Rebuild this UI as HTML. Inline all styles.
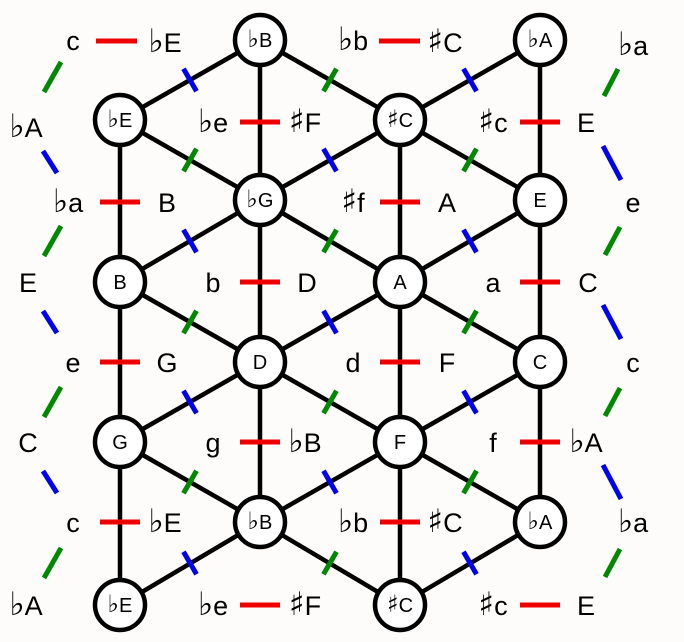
<!DOCTYPE html>
<html><head><meta charset="utf-8"><style>
html,body{margin:0;padding:0;background:#fff}
svg{display:block}
text{font-family:"Liberation Sans","DejaVu Sans",sans-serif}
.acc{font-family:"DejaVu Sans",sans-serif;font-size:1.2em}
</style></head><body>
<svg width="684" height="642" viewBox="0 0 684 642" xmlns="http://www.w3.org/2000/svg">
<rect width="684" height="642" fill="#fdfcfa"/>
<g stroke="#000" stroke-width="4.5">
<line x1="120" y1="120" x2="120" y2="605"/>
<line x1="260" y1="40" x2="260" y2="522"/>
<line x1="400" y1="120" x2="400" y2="605"/>
<line x1="540" y1="40" x2="540" y2="522"/>
<line x1="120" y1="120" x2="260" y2="40"/>
<line x1="120" y1="120" x2="260" y2="200"/>
<line x1="120" y1="282" x2="260" y2="200"/>
<line x1="120" y1="282" x2="260" y2="362"/>
<line x1="120" y1="442" x2="260" y2="362"/>
<line x1="120" y1="442" x2="260" y2="522"/>
<line x1="120" y1="605" x2="260" y2="522"/>
<line x1="260" y1="40" x2="400" y2="120"/>
<line x1="260" y1="200" x2="400" y2="120"/>
<line x1="260" y1="200" x2="400" y2="282"/>
<line x1="260" y1="362" x2="400" y2="282"/>
<line x1="260" y1="362" x2="400" y2="442"/>
<line x1="260" y1="522" x2="400" y2="442"/>
<line x1="260" y1="522" x2="400" y2="605"/>
<line x1="400" y1="120" x2="540" y2="40"/>
<line x1="400" y1="120" x2="540" y2="200"/>
<line x1="400" y1="282" x2="540" y2="200"/>
<line x1="400" y1="282" x2="540" y2="362"/>
<line x1="400" y1="442" x2="540" y2="362"/>
<line x1="400" y1="442" x2="540" y2="522"/>
<line x1="400" y1="605" x2="540" y2="522"/>
</g>
<g stroke="#0000ee" stroke-width="5">
<line x1="183.5" y1="68.7" x2="196.5" y2="91.3"/>
<line x1="183.5" y1="229.7" x2="196.5" y2="252.3"/>
<line x1="183.5" y1="390.7" x2="196.5" y2="413.3"/>
<line x1="183.5" y1="551.7" x2="196.5" y2="574.3"/>
<line x1="323.5" y1="148.7" x2="336.5" y2="171.3"/>
<line x1="323.5" y1="310.7" x2="336.5" y2="333.3"/>
<line x1="323.5" y1="470.7" x2="336.5" y2="493.3"/>
<line x1="463.5" y1="68.7" x2="476.5" y2="91.3"/>
<line x1="463.5" y1="229.7" x2="476.5" y2="252.3"/>
<line x1="463.5" y1="390.7" x2="476.5" y2="413.3"/>
<line x1="463.5" y1="551.7" x2="476.5" y2="574.3"/>
<line x1="43" y1="151" x2="57" y2="173"/>
<line x1="43" y1="311" x2="57" y2="333"/>
<line x1="43" y1="471" x2="57" y2="493"/>
<line x1="603" y1="146" x2="621" y2="180"/>
<line x1="603" y1="305" x2="621" y2="339"/>
<line x1="603" y1="465" x2="621" y2="499"/>
</g>
<g stroke="#008800" stroke-width="5">
<line x1="196.5" y1="148.7" x2="183.5" y2="171.3"/>
<line x1="196.5" y1="310.7" x2="183.5" y2="333.3"/>
<line x1="196.5" y1="470.7" x2="183.5" y2="493.3"/>
<line x1="336.5" y1="68.7" x2="323.5" y2="91.3"/>
<line x1="336.5" y1="229.7" x2="323.5" y2="252.3"/>
<line x1="336.5" y1="390.7" x2="323.5" y2="413.3"/>
<line x1="336.5" y1="551.7" x2="323.5" y2="574.3"/>
<line x1="476.5" y1="148.7" x2="463.5" y2="171.3"/>
<line x1="476.5" y1="310.7" x2="463.5" y2="333.3"/>
<line x1="476.5" y1="470.7" x2="463.5" y2="493.3"/>
<line x1="61" y1="62" x2="44" y2="92"/>
<line x1="61" y1="226" x2="44" y2="256"/>
<line x1="61" y1="387" x2="44" y2="417"/>
<line x1="61" y1="548" x2="44" y2="578"/>
<line x1="618" y1="69" x2="604" y2="96"/>
<line x1="620" y1="227" x2="605" y2="255"/>
<line x1="620" y1="388" x2="605" y2="416"/>
<line x1="620" y1="549" x2="605" y2="577"/>
</g>
<g stroke="#ee0000" stroke-width="5">
<line x1="96" y1="41" x2="137" y2="41"/>
<line x1="379" y1="41" x2="420" y2="41"/>
<line x1="240" y1="122" x2="280" y2="122"/>
<line x1="520" y1="122" x2="560" y2="122"/>
<line x1="100" y1="202" x2="140" y2="202"/>
<line x1="380" y1="202" x2="420" y2="202"/>
<line x1="240" y1="282" x2="280" y2="282"/>
<line x1="520" y1="282" x2="560" y2="282"/>
<line x1="100" y1="362" x2="140" y2="362"/>
<line x1="380" y1="362" x2="420" y2="362"/>
<line x1="240" y1="442" x2="280" y2="442"/>
<line x1="520" y1="442" x2="560" y2="442"/>
<line x1="100" y1="522" x2="140" y2="522"/>
<line x1="380" y1="522" x2="420" y2="522"/>
<line x1="240" y1="605" x2="280" y2="605"/>
<line x1="520" y1="605" x2="560" y2="605"/>
</g>
<g fill="#fff" stroke="#000" stroke-width="4.5">
<circle cx="260" cy="40" r="25"/><circle cx="540" cy="40" r="25"/>
<circle cx="120" cy="120" r="25"/><circle cx="400" cy="120" r="25"/>
<circle cx="260" cy="200" r="25"/><circle cx="540" cy="200" r="25"/>
<circle cx="120" cy="282" r="25"/><circle cx="400" cy="282" r="25"/>
<circle cx="260" cy="362" r="25"/><circle cx="540" cy="362" r="25"/>
<circle cx="120" cy="442" r="25"/><circle cx="400" cy="442" r="25"/>
<circle cx="260" cy="522" r="25"/><circle cx="540" cy="522" r="25"/>
<circle cx="120" cy="605" r="25"/><circle cx="400" cy="605" r="25"/>
</g>
<g font-size="20" text-anchor="middle" fill="#000">
<text x="260" y="47"><tspan class="acc">♭</tspan>B</text><text x="540" y="47"><tspan class="acc">♭</tspan>A</text>
<text x="120" y="127"><tspan class="acc">♭</tspan>E</text><text x="400" y="127"><tspan class="acc">♯</tspan>C</text>
<text x="260" y="207"><tspan class="acc">♭</tspan>G</text><text x="540" y="207">E</text>
<text x="120" y="289">B</text><text x="400" y="289">A</text>
<text x="260" y="369">D</text><text x="540" y="369">C</text>
<text x="120" y="449">G</text><text x="400" y="449">F</text>
<text x="260" y="529"><tspan class="acc">♭</tspan>B</text><text x="540" y="529"><tspan class="acc">♭</tspan>A</text>
<text x="120" y="612"><tspan class="acc">♭</tspan>E</text><text x="400" y="612"><tspan class="acc">♯</tspan>C</text>
</g>
<g font-size="27" text-anchor="middle" fill="#000">
<text x="73" y="50">c</text><text x="165" y="52"><tspan class="acc">♭</tspan>E</text>
<text x="353" y="50"><tspan class="acc">♭</tspan>b</text><text x="445" y="52"><tspan class="acc">♯</tspan>C</text>
<text x="213" y="132"><tspan class="acc">♭</tspan>e</text><text x="305" y="132"><tspan class="acc">♯</tspan>F</text>
<text x="493" y="132"><tspan class="acc">♯</tspan>c</text><text x="586" y="132">E</text>
<text x="68" y="212"><tspan class="acc">♭</tspan>a</text><text x="167" y="212">B</text>
<text x="353" y="212"><tspan class="acc">♯</tspan>f</text><text x="447" y="212">A</text>
<text x="213" y="292">b</text><text x="307" y="292">D</text>
<text x="493" y="292">a</text><text x="588" y="292">C</text>
<text x="73" y="372">e</text><text x="167" y="372">G</text>
<text x="353" y="372">d</text><text x="447" y="372">F</text>
<text x="213" y="452">g</text><text x="305" y="452"><tspan class="acc">♭</tspan>B</text>
<text x="493" y="452">f</text><text x="586" y="452"><tspan class="acc">♭</tspan>A</text>
<text x="73" y="532">c</text><text x="165" y="532"><tspan class="acc">♭</tspan>E</text>
<text x="353" y="532"><tspan class="acc">♭</tspan>b</text><text x="445" y="532"><tspan class="acc">♯</tspan>C</text>
<text x="213" y="615"><tspan class="acc">♭</tspan>e</text><text x="305" y="615"><tspan class="acc">♯</tspan>F</text>
<text x="493" y="615"><tspan class="acc">♯</tspan>c</text><text x="586" y="615">E</text>
<text x="26" y="137"><tspan class="acc">♭</tspan>A</text><text x="28" y="292">E</text>
<text x="28" y="452">C</text><text x="26" y="615"><tspan class="acc">♭</tspan>A</text>
<text x="633" y="55"><tspan class="acc">♭</tspan>a</text><text x="633" y="212">e</text>
<text x="633" y="372">c</text><text x="633" y="532"><tspan class="acc">♭</tspan>a</text>
</g>
</svg>
</body></html>
